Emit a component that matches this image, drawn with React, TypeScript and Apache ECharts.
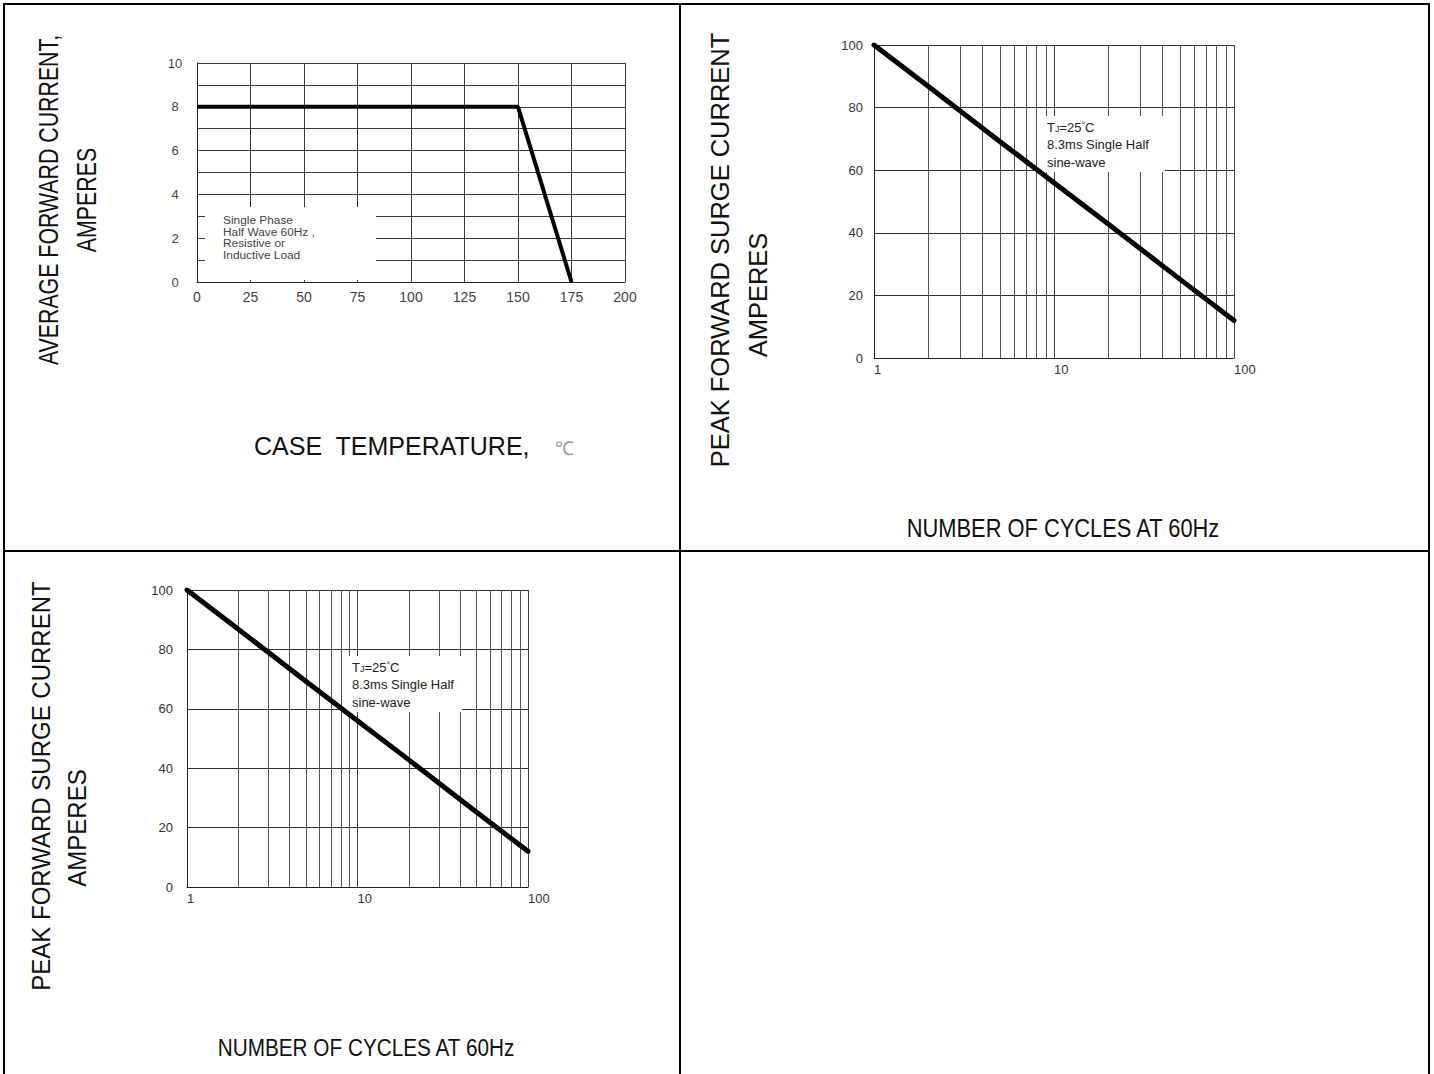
import React, { useEffect, useRef } from "react";
import * as echarts from "echarts";

// ---- Data ----
const caseTemp = [0, 150, 175];
const avgForwardCurrent = [8, 8, 0];

const cycles = [1, 2, 5, 10, 20, 50, 100];
const surgeCurrent = [100, 86.8, 69.2, 56, 42.8, 25.2, 12];

const minorCycleLines = [2, 3, 4, 5, 6, 7, 8, 9, 20, 30, 40, 50, 60, 70, 80, 90];

const FONT = 'Arial, "Liberation Sans", sans-serif';

function logAxis(gridIndex: number) {
  return {
    gridIndex,
    type: "log",
    logBase: 10,
    min: 1,
    max: 100,
    axisLine: { show: true, onZero: false, lineStyle: { color: "#222", width: 1 } },
    axisTick: { show: false },
    minorTick: { show: false },
    minorSplitLine: { show: false },
    axisLabel: { align: "left", margin: 5, fontSize: 13, color: "#333", fontFamily: FONT },
    splitLine: { show: true, lineStyle: { color: "#444", width: 1 } },
  };
}

function surgeYAxis(gridIndex: number, margin: number) {
  return {
    gridIndex,
    type: "value",
    min: 0,
    max: 100,
    interval: 20,
    axisLine: { show: true, onZero: false, lineStyle: { color: "#222", width: 1 } },
    axisTick: { show: false },
    axisLabel: { margin, fontSize: 13, color: "#333", fontFamily: FONT },
    splitLine: { show: true, lineStyle: { color: "#333", width: 1 } },
  };
}

function surgeSeries(axisIndex: number) {
  return {
    type: "line",
    xAxisIndex: axisIndex,
    yAxisIndex: axisIndex,
    data: cycles.map((c, i) => [c, surgeCurrent[i]]),
    symbol: "none",
    lineStyle: { color: "#000", width: 5, join: "round", cap: "round" },
    z: 2,
    silent: true,
    markLine: {
      silent: true,
      z: 1,
      symbol: ["none", "none"],
      label: { show: false },
      emphasis: { disabled: true },
      lineStyle: { color: "#555", width: 1, type: "solid" },
      data: minorCycleLines.map((v) => ({ xAxis: v })),
    },
  };
}

function vText(x: number, y: number, text: string, fontSize: number, sx: number) {
  return {
    type: "text",
    x,
    y,
    rotation: Math.PI / 2,
    scaleX: sx,
    z: 5,
    style: {
      text,
      fontSize,
      fontFamily: FONT,
      fill: "#111",
      align: "center",
      verticalAlign: "middle",
    },
  };
}

function hText(x: number, y: number, text: string, fontSize: number, sx: number, fill = "#111") {
  return {
    type: "text",
    x,
    y,
    scaleX: sx,
    z: 5,
    style: {
      text,
      fontSize,
      fontFamily: FONT,
      fill,
      align: "center",
      verticalAlign: "middle",
    },
  };
}

function tjNote(x: number, y: number) {
  const base = { fontSize: 13, fontFamily: FONT, fill: "#222" };
  return [
    {
      type: "text",
      x,
      y,
      z: 6,
      style: {
        text: "{n|T}{j|J}{n|=25}{d|°}{n|C}",
        ...base,
        verticalAlign: "middle",
        rich: {
          n: { fontSize: 13, fontFamily: FONT, fill: "#222" },
          j: { fontSize: 9, fontFamily: FONT, fill: "#222", verticalAlign: "bottom" },
          d: { fontSize: 9, fontFamily: FONT, fill: "#222", verticalAlign: "top" },
        },
      },
    },
    { type: "text", x, y: y + 17.5, z: 6, style: { text: "8.3ms Single Half", ...base, verticalAlign: "middle" } },
    { type: "text", x, y: y + 35, z: 6, style: { text: "sine-wave", ...base, verticalAlign: "middle" } },
  ];
}

export default function App() {
  const ref = useRef<HTMLDivElement>(null);

  useEffect(() => {
    if (!ref.current) return;
    const chart = echarts.init(ref.current, null, { renderer: "svg" });

    const option: any = {
      animation: false,
      backgroundColor: "#fff",
      grid: [
        { left: 197, top: 63, width: 428, height: 219, outerBoundsMode: "none", containLabel: false },
        { left: 874, top: 45, width: 360, height: 313, outerBoundsMode: "none", containLabel: false },
        { left: 187, top: 590, width: 341, height: 297, outerBoundsMode: "none", containLabel: false },
      ],
      xAxis: [
        {
          gridIndex: 0,
          type: "value",
          min: 0,
          max: 200,
          interval: 25,
          axisLine: { show: true, onZero: false, lineStyle: { color: "#222", width: 1 } },
          axisTick: { show: false },
          axisLabel: { margin: 8, fontSize: 14, color: "#444", fontFamily: FONT },
          splitLine: { show: true, lineStyle: { color: "#3a3a3a", width: 1 } },
        },
        logAxis(1),
        logAxis(2),
      ],
      yAxis: [
        {
          gridIndex: 0,
          type: "value",
          min: 0,
          max: 10,
          interval: 1,
          axisLine: { show: true, onZero: false, lineStyle: { color: "#222", width: 1 } },
          axisTick: { show: false },
          axisLabel: {
            margin: 22,
            align: "center",
            fontSize: 13,
            color: "#444",
            fontFamily: FONT,
            formatter: (v: number) => (v % 2 === 0 ? String(v) : ""),
          },
          splitLine: { show: true, lineStyle: { color: "#3a3a3a", width: 1 } },
        },
        surgeYAxis(1, 11),
        surgeYAxis(2, 14),
      ],
      series: [
        {
          type: "line",
          xAxisIndex: 0,
          yAxisIndex: 0,
          data: caseTemp.map((t, i) => [t, avgForwardCurrent[i]]),
          symbol: "none",
          silent: true,
          lineStyle: { color: "#000", width: 4 },
          z: 2,
        },
        surgeSeries(1),
        surgeSeries(2),
      ],
      graphic: [
        // table borders
        { type: "rect", z: 10, shape: { x: 3, y: 3, width: 1427, height: 2 }, style: { fill: "#000" } },
        { type: "rect", z: 10, shape: { x: 3, y: 3, width: 2, height: 1071 }, style: { fill: "#000" } },
        { type: "rect", z: 10, shape: { x: 679, y: 3, width: 2, height: 1071 }, style: { fill: "#000" } },
        { type: "rect", z: 10, shape: { x: 1428, y: 3, width: 2, height: 1071 }, style: { fill: "#000" } },
        { type: "rect", z: 10, shape: { x: 3, y: 550, width: 1427, height: 2 }, style: { fill: "#000" } },

        // chart 1 annotation box
        { type: "rect", z: 1.5, shape: { x: 205, y: 207, width: 171, height: 73 }, style: { fill: "#fff" } },
        {
          type: "text",
          x: 223,
          y: 214,
          z: 6,
          scaleX: 1.08,
          style: {
            text: "Single Phase\nHalf Wave 60Hz ,\nResistive or\nInductive Load",
            fontSize: 11,
            lineHeight: 11.8,
            fontFamily: FONT,
            fill: "#444",
            verticalAlign: "top",
          },
        },

        // chart 1 titles
        vText(49, 200, "AVERAGE FORWARD CURRENT,", 27, 0.79),
        vText(87, 200, "AMPERES", 27, 0.79),
        {
          type: "text",
          x: 254,
          y: 446,
          z: 5,
          style: { text: "CASE  TEMPERATURE,", fontSize: 25, fontFamily: FONT, fill: "#111", verticalAlign: "middle" },
        },
        {
          type: "text",
          x: 555,
          y: 448,
          z: 5,
          style: { text: "℃", fontSize: 19, fontFamily: FONT, fill: "#999", verticalAlign: "middle" },
        },

        // chart 2 annotation
        { type: "rect", z: 1.5, shape: { x: 1039, y: 116, width: 126, height: 56 }, style: { fill: "#fff" } },
        ...tjNote(1047, 127),
        vText(720, 250, "PEAK FORWARD SURGE CURRENT", 26, 0.98),
        vText(758, 295, "AMPERES", 26, 0.98),
        hText(1063, 528, "NUMBER OF CYCLES AT 60Hz", 25, 0.875),

        // chart 3 annotation
        { type: "rect", z: 1.5, shape: { x: 344, y: 656, width: 118, height: 56 }, style: { fill: "#fff" } },
        ...tjNote(352, 667),
        vText(41, 786, "PEAK FORWARD SURGE CURRENT", 25, 0.96),
        vText(77, 828, "AMPERES", 25, 0.96),
        hText(366, 1048, "NUMBER OF CYCLES AT 60Hz", 24, 0.865),
      ],
    };

    chart.setOption(option);
    return () => chart.dispose();
  }, []);

  return (
    <div
      ref={ref}
      style={{ position: "absolute", left: 0, top: 0, width: 1434, height: 1074, background: "#fff" }}
    />
  );
}
